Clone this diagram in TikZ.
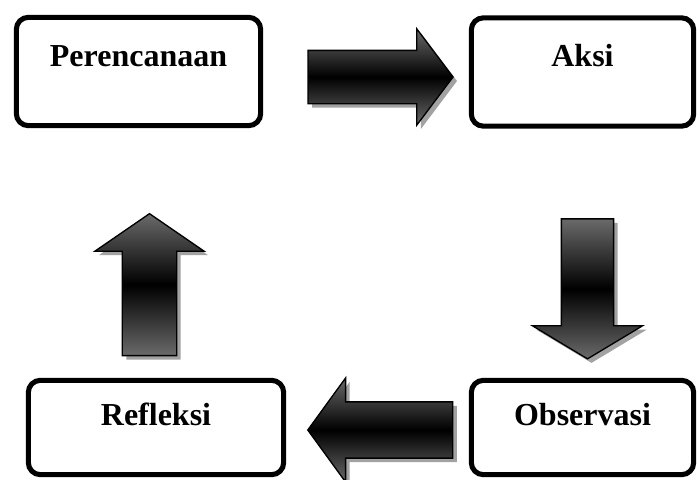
\documentclass[tikz,border=0pt]{standalone}
\usepackage{fontspec}
\setmainfont{Liberation Serif}
\usepackage{tikz}
\usetikzlibrary{shapes.arrows, shadows}
\definecolor{ArrowGray}{HTML}{6A6A6A}
\definecolor{ShadowGray}{HTML}{A2A2A2}

\begin{document}
\begin{tikzpicture}[
    x=0.75pt, y=-0.75pt,
    stage/.style={draw=black, line width=3.8pt, rounded corners=9pt, inner sep=0pt,
        font=\fontsize{24}{28}\selectfont\bfseries},
    upper/.style={stage, text height=36.5pt, text depth=44.75pt},
    lower/.style={stage, text height=33.5pt, text depth=37.25pt},
    blockarrow/.style={single arrow, draw=black, line width=1pt,
        top color=ArrowGray, bottom color=ArrowGray, middle color=black,
        drop shadow={shadow xshift=3pt, shadow yshift=-3pt, fill=ShadowGray, opacity=1}}
]
\useasboundingbox (0,0) rectangle (698,479);

% Top row: Perencanaan, Aksi
\node[upper, minimum width=183.25pt] (plan) at (138.5,71.5) {Perencanaan};
\node[upper, minimum width=166.75pt] (aksi) at (582.5,72) {Aksi};
% Bottom row: Refleksi, Observasi
\node[lower, minimum width=191.5pt] (refl) at (156,427.5) {Refleksi};
\node[lower, minimum width=166.75pt] (obs) at (582.5,427.5) {Observasi};

% Block arrows of the cycle
\node[blockarrow, inner sep=19.5pt, minimum height=108.75pt,
    single arrow head extend=16.1pt, single arrow tip angle=106] (toaksi) at (370.5,77) {};
\node[blockarrow, shape border rotate=270, inner sep=19.1pt, minimum height=105pt,
    single arrow head extend=21.75pt, single arrow tip angle=118] (toobs) at (587.5,281) {};
\node[blockarrow, shape border rotate=180, inner sep=20.6pt, minimum height=108.75pt,
    single arrow head extend=18pt, single arrow tip angle=108] (torefl) at (390.5,430) {};
\node[blockarrow, shape border rotate=90, inner sep=19.9pt, minimum height=106.5pt,
    single arrow head extend=20.6pt, single arrow tip angle=111] (toplan) at (149.5,294) {};
\end{tikzpicture}
\end{document}
